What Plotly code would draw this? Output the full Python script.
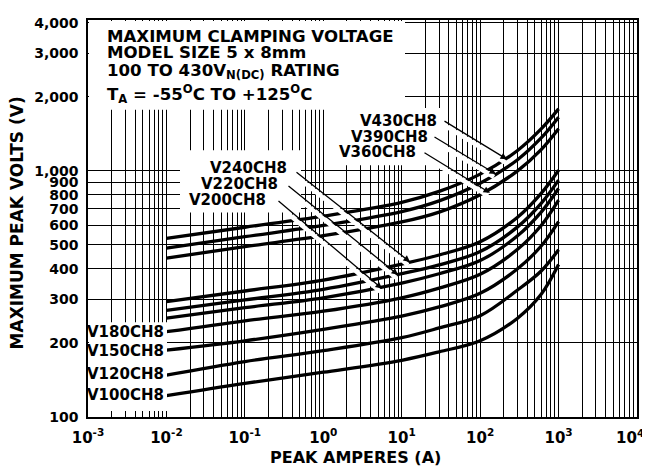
import plotly.graph_objects as go
import math

# ---- data ----
amps = [0.01, 0.1, 1, 10, 30, 100, 300, 600, 1000]
v100 = [122, 137, 152, 170, 184, 204, 252, 315, 416]
v120 = [148, 168, 186, 210, 230, 258, 328, 392, 478]
v150 = [187, 204, 227, 257, 280, 318, 400, 495, 622]
v180 = [222, 246, 269, 305, 334, 380, 480, 600, 761]
v200 = [252, 278, 305, 350, 382, 432, 545, 680, 848]
v220 = [271, 299, 330, 382, 415, 470, 592, 738, 917]
v240 = [294, 325, 360, 418, 455, 515, 648, 810, 1006]
v360 = [442, 492, 545, 620, 680, 800, 1000, 1220, 1483]
v390 = [485, 540, 600, 683, 755, 890, 1110, 1360, 1652]
v430 = [532, 590, 655, 745, 825, 970, 1210, 1480, 1785]

series_names = ["V100CH8", "V120CH8", "V150CH8", "V180CH8", "V200CH8",
                "V220CH8", "V240CH8", "V360CH8", "V390CH8", "V430CH8"]
series_values = [v100, v120, v150, v180, v200, v220, v240, v360, v390, v430]

x_major_text = ["10<sup>-3</sup>", "10<sup>-2</sup>", "10<sup>-1</sup>", "10<sup>0</sup>",
                "10<sup>1</sup>", "10<sup>2</sup>", "10<sup>3</sup>", "10<sup>4</sup>"]
y_ticks = [100, 200, 300, 400, 500, 600, 700, 800, 900, 1000, 2000, 3000, 4000]
y_tick_text = ["100", "200", "300", "400", "500", "600", "700", "800", "900",
               "1,000", "2,000", "3,000", "4,000"]

title_lines = ["MAXIMUM CLAMPING VOLTAGE", "MODEL SIZE 5 x 8mm",
               "100 TO 430V<sub>N(DC)</sub> RATING",
               "T<sub>A</sub> = -55<sup>O</sup>C TO +125<sup>O</sup>C"]

FONT = "DejaVu Sans"

# x grid values: 1..9 x 10^k (the last label, 10^4, is drawn separately so it fits)
x_grid = []
x_grid_text = []
for k in range(-3, 4):
    for m in range(1, 10):
        x_grid.append(m * 10 ** k)
        x_grid_text.append("<b>" + x_major_text[k + 3] + "</b>" if m == 1 else "")
x_grid.append(10000)
x_grid_text.append("")

# ---- placement (screen pixels; page body has an 8px margin) ----
OFF = 8
W, H = 650, 475
L, R, T, B = 88, 637, 15, 417
def px(x):
    return (x - L) / (R - L)
def py(y):
    return (B - y) / (B - T)

fig = go.Figure()
for name, vals in zip(series_names, series_values):
    fig.add_trace(go.Scatter(x=amps, y=vals, mode="lines", name=name,
                             line=dict(color="black", width=3.3, shape="spline", smoothing=1),
                             showlegend=False, hoverinfo="skip"))

shapes = []
def box(x0, y0, x1, y1):
    shapes.append(dict(type="rect", xref="paper", yref="paper",
                       x0=px(x0), x1=px(x1), y0=py(y1), y1=py(y0),
                       fillcolor="white", line=dict(width=0), layer="above"))

box(89, 16, 405, 106)     # title box
box(333, 104, 443, 162)   # V430/V390/V360 labels
box(180, 147, 301, 210)   # V240/V220/V200 labels
box(89, 321, 167, 411)    # left labels

ann = []
title_y = [32, 48, 67, 90]
for t, yy in zip(title_lines, title_y):
    ann.append(dict(text="<b>" + t + "</b>", xref="paper", yref="paper",
                    x=px(105), y=py(yy), xanchor="left", yanchor="middle",
                    showarrow=False, font=dict(family=FONT, size=16.6, color="black")))

labels = [("V430CH8", 439, 117), ("V390CH8", 430, 133), ("V360CH8", 418, 149),
          ("V240CH8", 289, 165), ("V220CH8", 280, 181), ("V200CH8", 268, 197),
          ("V180CH8", 166, 331), ("V150CH8", 166, 350), ("V120CH8", 166, 373),
          ("V100CH8", 166, 395)]
for t, xr, yc in labels:
    ann.append(dict(text="<b>" + t + "</b>", xref="paper", yref="paper",
                    x=px(xr), y=py(yc), xanchor="right", yanchor="middle",
                    showarrow=False, font=dict(family=FONT, size=15, color="black")))

arrows = [(443, 117, 507, 156), (433, 133, 496, 171), (423, 149, 490, 190),
          (295, 169, 410, 260), (287, 183, 398, 273), (277, 198, 382, 287)]
for x0, y0, x1, y1 in arrows:
    ann.append(dict(text="", xref="paper", yref="paper", x=px(x1 - 2), y=py(y1 + 3),
                    ax=(x0 - x1), ay=(y0 - y1), axref="pixel", ayref="pixel",
                    showarrow=True, arrowhead=0, arrowwidth=4.5, arrowcolor="white"))
for x0, y0, x1, y1 in arrows:
    ann.append(dict(text="", xref="paper", yref="paper", x=px(x1), y=py(y1),
                    ax=(x0 - x1), ay=(y0 - y1), axref="pixel", ayref="pixel",
                    showarrow=True, arrowhead=2, arrowsize=1, arrowwidth=1.3,
                    arrowcolor="black"))

# last x tick label, nudged left so it stays inside the window
ann.append(dict(text="<b>" + x_major_text[-1] + "</b>", xref="paper", yref="paper",
                x=px(630), y=py(426), xanchor="center", yanchor="top",
                showarrow=False, borderpad=0,
                font=dict(family=FONT, size=15, color="black")))

ann.append(dict(text="<b>PEAK AMPERES (A)</b>", xref="paper", yref="paper",
                x=px(355), y=py(458), xanchor="center", yanchor="middle",
                showarrow=False, font=dict(family=FONT, size=16, color="black")))
ann.append(dict(text="<b>MAXIMUM PEAK VOLTS (V)</b>", xref="paper", yref="paper",
                x=px(17), y=py(221), xanchor="center", yanchor="middle",
                textangle=-90, showarrow=False,
                font=dict(family=FONT, size=17, color="black")))

fig.update_layout(
    width=W, height=H,
    margin=dict(l=L - OFF, r=W - (R - OFF), t=T - OFF, b=H - (B - OFF)),
    paper_bgcolor="white", plot_bgcolor="white",
    shapes=shapes, annotations=ann,
    font=dict(family=FONT, color="black"),
    showlegend=False,
)
fig.update_xaxes(type="log", range=[-3, 4], tickmode="array",
                 tickvals=x_grid, ticktext=x_grid_text,
                 showgrid=True, gridcolor="black", gridwidth=1.2,
                 showline=True, mirror=True, linecolor="black", linewidth=1.5,
                 ticks="", ticklabelstandoff=6, zeroline=False,
                 tickfont=dict(family=FONT, size=15, color="black"))
fig.update_yaxes(type="log", range=[2, math.log10(4100)], tickmode="array",
                 tickvals=y_ticks, ticktext=["<b>" + t + "</b>" for t in y_tick_text],
                 showgrid=True, gridcolor="black", gridwidth=1.2,
                 showline=True, mirror=True, linecolor="black", linewidth=1.5,
                 ticks="", ticklabelstandoff=5, zeroline=False,
                 tickfont=dict(family=FONT, size=14, color="black"))

fig.write_html("out.html")
